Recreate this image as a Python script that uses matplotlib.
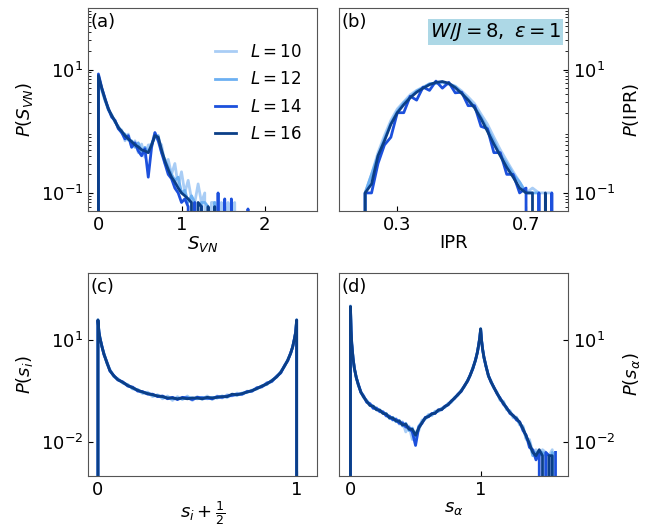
"""Distribution panels P(S_VN), P(IPR), P(s_i), P(s_alpha) for several L"""
import numpy as np
import matplotlib
matplotlib.use('Agg')
import matplotlib.pyplot as plt
from matplotlib.ticker import NullLocator

L_VALUES = [10, 12, 14, 16]
COLORS = ['#a9cdf5', '#6cb0f2', '#1c50dc', '#0b3f87']

# (a) entanglement entropy
SVN_X = np.r_[0, np.arange(0, 1.9, 0.04)]
SVN_L10 = [0, 7.2, 4.6, 3.1, 2.4, 1.7, 1.5, 1.1, 1.05, 0.7, 0.9, 0.55, 0.7, 0.45, 0.62, 0.38,
           0.6, 0.6, 0.95, 0.7, 0.6, 0.3, 0.35, 0.2, 0.3, 0.13, 0.22, 0.1, 0.16, 0.08, 0.07,
           0.14, 0.07, 0.1, 0, 0.07, 0.07, 0, 0.07, 0, 0.07, 0, 0.07, 0, 0, 0, 0, 0, 0]
SVN_L12 = [0, 7.6, 4.8, 3.2, 2.2, 1.85, 1.4, 1.2, 0.95, 0.9, 0.72, 0.7, 0.55, 0.65, 0.45, 0.55,
           0.45, 0.62, 0.8, 0.85, 0.45, 0.35, 0.26, 0.2, 0.16, 0.18, 0.1, 0.11, 0.07, 0.09, 0.07,
           0, 0.07, 0.07, 0.06, 0, 0.07, 0, 0, 0.06, 0, 0, 0, 0, 0, 0, 0, 0, 0]
SVN_L14 = [0, 8.5, 5.1, 3.4, 2.3, 1.7, 1.5, 1.1, 0.95, 0.75, 0.85, 0.55, 0.65, 0.48, 0.4, 0.52,
           0.18, 0.55, 0.95, 0.7, 0.45, 0.3, 0.2, 0.17, 0.12, 0.1, 0.07, 0.08, 0.06, 0, 0.07,
           0, 0.06, 0, 0.05, 0, 0, 0.1, 0, 0.08, 0, 0.08, 0, 0, 0, 0, 0.055, 0, 0]
SVN_L16 = [0, 8.0, 5.0, 3.3, 2.3, 1.8, 1.45, 1.15, 1.0, 0.85, 0.75, 0.68, 0.6, 0.56, 0.5, 0.48,
           0.45, 0.6, 0.85, 0.8, 0.5, 0.33, 0.24, 0.18, 0.15, 0.12, 0.1, 0.09, 0.08, 0.07, 0,
           0.07, 0.06, 0, 0.06, 0, 0.06, 0, 0, 0, 0, 0, 0, 0, 0, 0, 0, 0, 0]

# (b) inverse participation ratio
IPR_X = np.arange(0.18, 0.81, 0.02)
IPR_L10 = [0, 0.1, 0.2, 0.45, 0.85, 1.5, 2.3, 3.0, 3.9, 4.6, 5.2, 5.8, 6.0, 6.1, 5.9, 5.4,
           4.5, 3.6, 2.8, 1.9, 1.3, 0.8, 0.5, 0.33, 0.22, 0.15, 0.1, 0.12, 0.1, 0.1, 0.1, 0]
IPR_L12 = [0, 0.1, 0.2, 0.4, 0.75, 1.35, 2.1, 2.9, 3.6, 4.5, 5.1, 5.9, 6.0, 6.3, 5.8, 5.3,
           4.2, 3.3, 2.5, 1.7, 1.1, 0.7, 0.42, 0.3, 0.2, 0.15, 0.1, 0.1, 0.1, 0, 0, 0]
IPR_L14 = [0, 0.1, 0.1, 0.3, 0.6, 0.8, 2.0, 2.0, 3.7, 3.2, 5.2, 4.6, 6.5, 5.0, 6.2, 4.2,
           4.3, 2.6, 2.6, 1.2, 1.1, 0.45, 0.45, 0.2, 0.2, 0.1, 0.12, 0, 0.1, 0, 0.1, 0]
IPR_L16 = [0, 0.1, 0.14, 0.4, 0.7, 1.3, 2.0, 2.7, 3.5, 4.3, 5.0, 5.7, 6.2, 6.4, 6.0, 5.1,
           4.1, 3.2, 2.4, 1.6, 1.0, 0.62, 0.4, 0.26, 0.18, 0.12, 0.1, 0.1, 0, 0.1, 0, 0]

# (c) local magnetisation
SI_X = np.r_[[0, 0, 0.005, 0.01, 0.02, 0.03, 0.045, 0.06, 0.08],
             np.arange(0.1, 0.901, 0.025),
             [0.92, 0.94, 0.955, 0.97, 0.98, 0.99, 0.995, 1.0, 1.0]]
SI_L10 = [0, 41, 18.5, 12, 6.4, 4.2, 2.3, 1.4, 0.85, 0.75, 0.55, 0.5, 0.37, 0.36, 0.27, 0.3,
          0.22, 0.25, 0.19, 0.23, 0.17, 0.22, 0.18, 0.23, 0.17, 0.22, 0.18, 0.23, 0.18, 0.23,
          0.2, 0.25, 0.23, 0.28, 0.25, 0.32, 0.31, 0.41, 0.42, 0.57, 0.6, 0.9, 1.1, 1.9, 2.5,
          4.4, 6.3, 12, 18, 41, 0]
SI_L12 = [0, 40, 18, 12, 6.6, 4.1, 2.1, 1.35, 0.88, 0.72, 0.56, 0.49, 0.38, 0.35, 0.29, 0.28,
          0.24, 0.24, 0.21, 0.21, 0.19, 0.2, 0.19, 0.21, 0.2, 0.19, 0.21, 0.19, 0.21, 0.2,
          0.23, 0.21, 0.25, 0.24, 0.28, 0.29, 0.34, 0.37, 0.46, 0.5, 0.67, 0.83, 1.2, 1.75, 2.7,
          4.1, 6.6, 11.5, 18, 40, 0]
SI_L14 = [0, 38, 17, 11.5, 6.8, 3.8, 2.3, 1.25, 0.92, 0.68, 0.6, 0.45, 0.42, 0.32, 0.31, 0.26,
          0.26, 0.22, 0.23, 0.19, 0.21, 0.18, 0.21, 0.2, 0.18, 0.21, 0.2, 0.2, 0.19, 0.22,
          0.21, 0.23, 0.24, 0.26, 0.26, 0.31, 0.32, 0.4, 0.43, 0.55, 0.62, 0.88, 1.1, 1.85, 2.5,
          4.3, 6.4, 12.5, 17, 39, 0]
SI_L16 = [0, 40, 18, 12, 6.5, 4.0, 2.2, 1.3, 0.9, 0.7, 0.58, 0.47, 0.4, 0.34, 0.3, 0.27,
          0.25, 0.23, 0.22, 0.2, 0.2, 0.19, 0.2, 0.19, 0.2, 0.2, 0.19, 0.21, 0.2, 0.21,
          0.22, 0.22, 0.26, 0.25, 0.27, 0.3, 0.33, 0.38, 0.45, 0.52, 0.65, 0.85, 1.15, 1.8, 2.6,
          4.2, 6.5, 12, 18, 40, 0]

# (d) eigenstate magnetisation s_alpha
SA_X = np.r_[[0, 0, 0.005, 0.01, 0.02, 0.03, 0.045, 0.06, 0.08, 0.1],
             np.arange(0.125, 0.901, 0.025),
             [0.92, 0.94, 0.96, 0.975, 0.985, 0.993, 1.0, 1.007, 1.015, 1.025, 1.04, 1.06, 1.08],
             np.arange(1.1, 1.576, 0.025)]
SA_L10 = [0, 105, 21, 7.8, 3.0, 1.5, 0.8, 0.5, 0.3, 0.24,
          0.15, 0.14, 0.1, 0.105, 0.078, 0.08, 0.058, 0.06, 0.044, 0.05, 0.034, 0.04, 0.02,
          0.03, 0.012, 0.02, 0.022, 0.045, 0.048, 0.066, 0.06, 0.082, 0.08, 0.1, 0.105, 0.14,
          0.15, 0.21, 0.24, 0.34, 0.43, 0.68,
          0.92, 1.6, 2.5, 4.6, 7.3, 11.5, 21, 9.8, 5.7, 3.1, 1.9, 0.85, 0.64,
          0.4, 0.3, 0.17, 0.16, 0.09, 0.085, 0.052, 0.055, 0.032, 0.03, 0.012, 0.012, 0.005,
          0.006, 0.004, 0.006, 0.005, 0.004, 0.006, 0]
SA_L12 = [0, 100, 20, 8, 3.1, 1.45, 0.82, 0.48, 0.31, 0.21,
          0.17, 0.125, 0.115, 0.09, 0.09, 0.072, 0.07, 0.05, 0.054, 0.04, 0.044, 0.03, 0.036,
          0.022, 0.026, 0.014, 0.03, 0.04, 0.05, 0.062, 0.064, 0.078, 0.082, 0.098, 0.108,
          0.135, 0.155, 0.205, 0.245, 0.33, 0.44, 0.66,
          0.93, 1.55, 2.55, 4.6, 7.4, 12, 22, 10, 5.6, 3.1, 1.85, 0.88, 0.62,
          0.41, 0.29, 0.18, 0.15, 0.095, 0.08, 0.057, 0.052, 0.035, 0.027, 0.013, 0.01, 0.004,
          0.005, 0.004, 0.005, 0.004, 0, 0.005, 0]
SA_L14 = [0, 95, 19, 8.2, 2.9, 1.55, 0.78, 0.52, 0.29, 0.23,
          0.15, 0.135, 0.1, 0.1, 0.08, 0.078, 0.06, 0.058, 0.046, 0.047, 0.036, 0.037, 0.028,
          0.027, 0.02, 0.008, 0.028, 0.036, 0.054, 0.056, 0.07, 0.07, 0.09, 0.09, 0.115, 0.125,
          0.165, 0.195, 0.26, 0.31, 0.46, 0.63,
          0.97, 1.45, 2.65, 4.4, 7.6, 12, 21, 10, 5.4, 3.3, 1.75, 0.92, 0.58,
          0.43, 0.27, 0.2, 0.13, 0.105, 0.07, 0.062, 0.045, 0.04, 0.022, 0.016, 0.007, 0.006,
          0.003, 0.005, 0, 0.005, 0.004, 0, 0.005]
SA_L16 = [0, 100, 20, 8, 3.0, 1.5, 0.8, 0.5, 0.3, 0.22,
          0.16, 0.12, 0.115, 0.09, 0.088, 0.07, 0.068, 0.052, 0.052, 0.042, 0.042, 0.032, 0.034,
          0.024, 0.024, 0.016, 0.026, 0.038, 0.052, 0.058, 0.068, 0.072, 0.088, 0.092, 0.112,
          0.128, 0.162, 0.2, 0.25, 0.32, 0.45, 0.65,
          0.95, 1.5, 2.6, 4.5, 7.5, 12, 22, 10, 5.5, 3.2, 1.8, 0.9, 0.6,
          0.42, 0.28, 0.19, 0.14, 0.1, 0.075, 0.06, 0.05, 0.038, 0.025, 0.015, 0.009, 0.005,
          0.004, 0.006, 0.004, 0, 0.004, 0.004, 0]

FS = 13


def draw_panel(ax, x, series, xlim, ylim, yticks, xticks, xlabel, ylabel, tag, right=False):
    for y, L, c in zip(series, L_VALUES, COLORS):
        ax.plot(x, y, color=c, lw=2, label=f'$L={L}$')
    ax.set_yscale('log')
    ax.set_xlim(*xlim)
    ax.set_ylim(*ylim)
    ax.set_yticks(yticks)
    ax.set_xticks(xticks)
    ax.set_xlabel(xlabel, fontsize=FS, labelpad=0)
    ax.set_ylabel(ylabel, fontsize=FS)
    ax.tick_params(direction='in', labelsize=FS, which='both')
    if right:
        ax.yaxis.tick_right()
        ax.yaxis.set_label_position('right')
    for s in ax.spines.values():
        s.set_color('#555555')
    ax.text(0.01, 0.975, tag, transform=ax.transAxes, ha='left', va='top', fontsize=FS)


fig, axes = plt.subplots(2, 2, figsize=(6.52, 5.29), dpi=100)
fig.subplots_adjust(left=0.135, right=0.871, top=0.985, bottom=0.1, wspace=0.1, hspace=0.3)
ax_a, ax_b, ax_c, ax_d = axes.flatten()

draw_panel(ax_a, SVN_X, [SVN_L10, SVN_L12, SVN_L14, SVN_L16], (-0.125, 2.625), (0.05, 100),
           [0.1, 10], [0, 1, 2], '$S_{VN}$', '$P(S_{VN})$', '(a)')
ax_a.legend(loc='upper right', bbox_to_anchor=(1.0, 0.9), frameon=False, fontsize=12,
            handlelength=1.3, handletextpad=0.8, labelspacing=0.55)

draw_panel(ax_b, IPR_X, [IPR_L10, IPR_L12, IPR_L14, IPR_L16], (0.12, 0.83), (0.05, 100),
           [0.1, 10], [0.3, 0.7], 'IPR', r'$P(\mathrm{IPR})$', '(b)', right=True)
ax_b.text(0.97, 0.935, r'$W/J=8,\ \epsilon=1$', transform=ax_b.transAxes, ha='right', va='top',
          fontsize=14, bbox=dict(facecolor='lightblue', edgecolor='none', pad=1.5))

draw_panel(ax_c, SI_X, [SI_L10, SI_L12, SI_L14, SI_L16], (-0.05, 1.1), (1e-3, 1e3),
           [1e-2, 10], [0, 1], r'$s_i+\frac{1}{2}$', '$P(s_i)$', '(c)')
draw_panel(ax_d, SA_X, [SA_L10, SA_L12, SA_L14, SA_L16], (-0.085, 1.67), (1e-3, 1e3),
           [1e-2, 10], [0, 1], r'$s_\alpha$', r'$P(s_\alpha)$', '(d)', right=True)
for ax in (ax_c, ax_d):
    ax.yaxis.set_minor_locator(NullLocator())

plt.savefig('out.png', dpi=100)
plt.close()
